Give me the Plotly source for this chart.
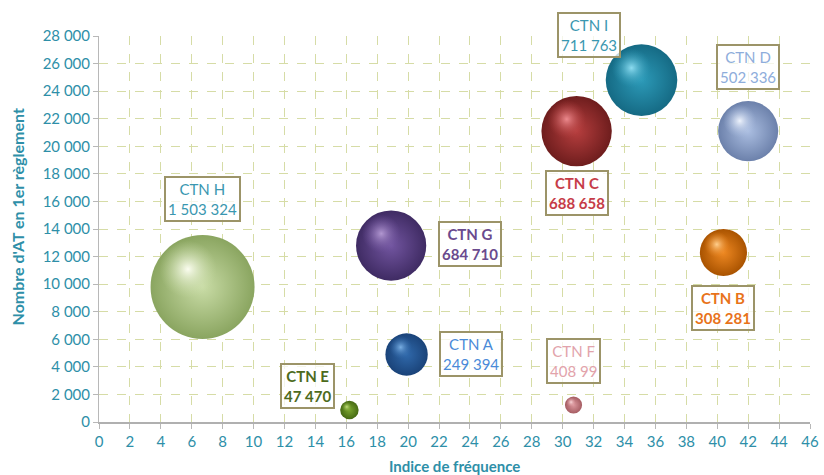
import plotly.graph_objects as go

names = ["CTN H", "CTN G", "CTN A", "CTN E", "CTN F", "CTN C", "CTN I", "CTN D", "CTN B"]
freq = [6.7, 18.9, 19.9, 16.2, 30.7, 30.9, 35.1, 42.0, 40.4]
nb_at = [9800, 12800, 4900, 870, 1230, 21100, 24800, 21100, 12300]
weights = [1503324, 684710, 249394, 47470, 40899, 688658, 711763, 502336, 308281]
value_labels = ["1 503 324", "684 710", "249 394", "47 470", "408 99", "688 658", "711 763", "502 336", "308 281"]

base_colors = ["#c9dca6", "#7255a0", "#3069ab", "#7aa52e", "#dc989e", "#b63e3e", "#2c9ab8", "#abbee1", "#ee8822"]
center_colors = ["#fbfdf0", "#b197d0", "#79aee2", "#c2e07c", "#f8d4d6", "#ec8a8e", "#8ddcf0", "#eef3fc", "#ffcf8e"]
edge_colors = ["#8aa560", "#3f2b63", "#1a4379", "#466a14", "#a55c62", "#6e1d1d", "#156a84", "#6c81ab", "#a95300"]
text_colors = ["#3a97b0", "#6a4a8e", "#4a8ad8", "#4d6b1c", "#e2a3ab", "#c63c48", "#3a97b0", "#8eaddb", "#e8731a"]
# label offsets in pixels relative to bubble center (style)
lab_dx = [0, 79, 64, -42, 0, 0, -53, 0, 0]
lab_dy = [88, 2, 0, 24, 44, -62, 45, 64, -56]

x_ticks = list(range(0, 47, 2))
y_ticks = list(range(0, 28001, 2000))
y_ticktext = ["0" if v == 0 else f"{v // 1000} {v % 1000:03d}" for v in y_ticks]

W, H = 824, 475
ML, MR, MT, MB = 99, 14, 36, 53
max_d = 104
sizeref = 2.0 * max(weights) / (max_d ** 2)

fig = go.Figure()

# shading bubbles
for i in range(len(names)):
    fig.add_trace(go.Scatter(
        x=[freq[i]], y=[nb_at[i]], mode="markers",
        marker=dict(size=[weights[i]], sizemode="area", sizeref=sizeref,
                    color=edge_colors[i], opacity=1,
                    gradient=dict(type="radial", color=base_colors[i]),
                    line=dict(width=0)),
        hoverinfo="skip", showlegend=False))

# highlight layer, offset up-left
px_x = (W - ML - MR) / 46.0
px_y = (H - MT - MB) / 28000.0
for i in range(len(names)):
    d = (weights[i] / max(weights)) ** 0.5 * max_d
    hx = freq[i] - 0.14 * d / px_x
    hy = nb_at[i] + 0.17 * d / px_y
    bc = base_colors[i].lstrip("#")
    r, g, b = int(bc[0:2], 16), int(bc[2:4], 16), int(bc[4:6], 16)
    fig.add_trace(go.Scatter(
        x=[hx], y=[hy], mode="markers",
        marker=dict(size=d * 0.55, color=f"rgba({r},{g},{b},0)", opacity=1,
                    gradient=dict(type="radial", color=center_colors[i]),
                    line=dict(width=0)),
        hoverinfo="skip", showlegend=False))

for i in range(len(names)):
    fig.add_annotation(
        x=freq[i], y=nb_at[i], xref="x", yref="y",
        text=f"<b>{names[i]}<br>{value_labels[i]}</b>" if i in (1, 3, 5, 8) else f"{names[i]}<br>{value_labels[i]}",
        showarrow=False, xshift=lab_dx[i], yshift=lab_dy[i],
        font=dict(family="Lato", size=15, color=text_colors[i]),
        bgcolor="rgba(255,255,255,0.75)", bordercolor="#9c9468", borderwidth=2,
        borderpad=2, align="center")

# axis titles
fig.add_annotation(x=0.5, y=0, xref="paper", yref="paper", yshift=-44,
                   text="<b>Indice de fréquence</b>", showarrow=False,
                   xanchor="center", yanchor="middle",
                   font=dict(family="Lato", size=15, color="#2e8fa8"))
fig.add_annotation(x=0, y=0.53, xref="paper", yref="paper", xshift=-82,
                   text="<b>Nombre d'AT en 1er règlement</b>", showarrow=False,
                   textangle=-90, xanchor="center", yanchor="middle",
                   font=dict(family="Lato", size=16, color="#2e8fa8"))

fig.update_layout(
    width=W, height=H,
    margin=dict(l=ML, r=MR, t=MT, b=MB, autoexpand=False),
    paper_bgcolor="white", plot_bgcolor="white",
    font=dict(family="Lato", color="#2e8fa8"),
    xaxis=dict(range=[0, 46], tickvals=x_ticks, ticktext=[str(v) for v in x_ticks],
               showgrid=True, gridcolor="#d6dca6", griddash="dash", gridwidth=1,
               showline=True, linecolor="#b0b0b0", linewidth=2,
               ticks="outside", ticklen=5, tickcolor="#b8b8b8", automargin=False,
               tickfont=dict(size=15, color="#2e8fa8"), zeroline=False),
    yaxis=dict(range=[0, 28000], tickvals=y_ticks, ticktext=y_ticktext,
               showgrid=True, gridcolor="#d6dca6", griddash="dash", gridwidth=1,
               showline=True, linecolor="#b8b8b8", linewidth=1,
               ticks="outside", ticklen=5, tickcolor="#b8b8b8", automargin=False,
               tickfont=dict(size=15, color="#2e8fa8"), zeroline=False),
)

fig.write_html("out.html")
